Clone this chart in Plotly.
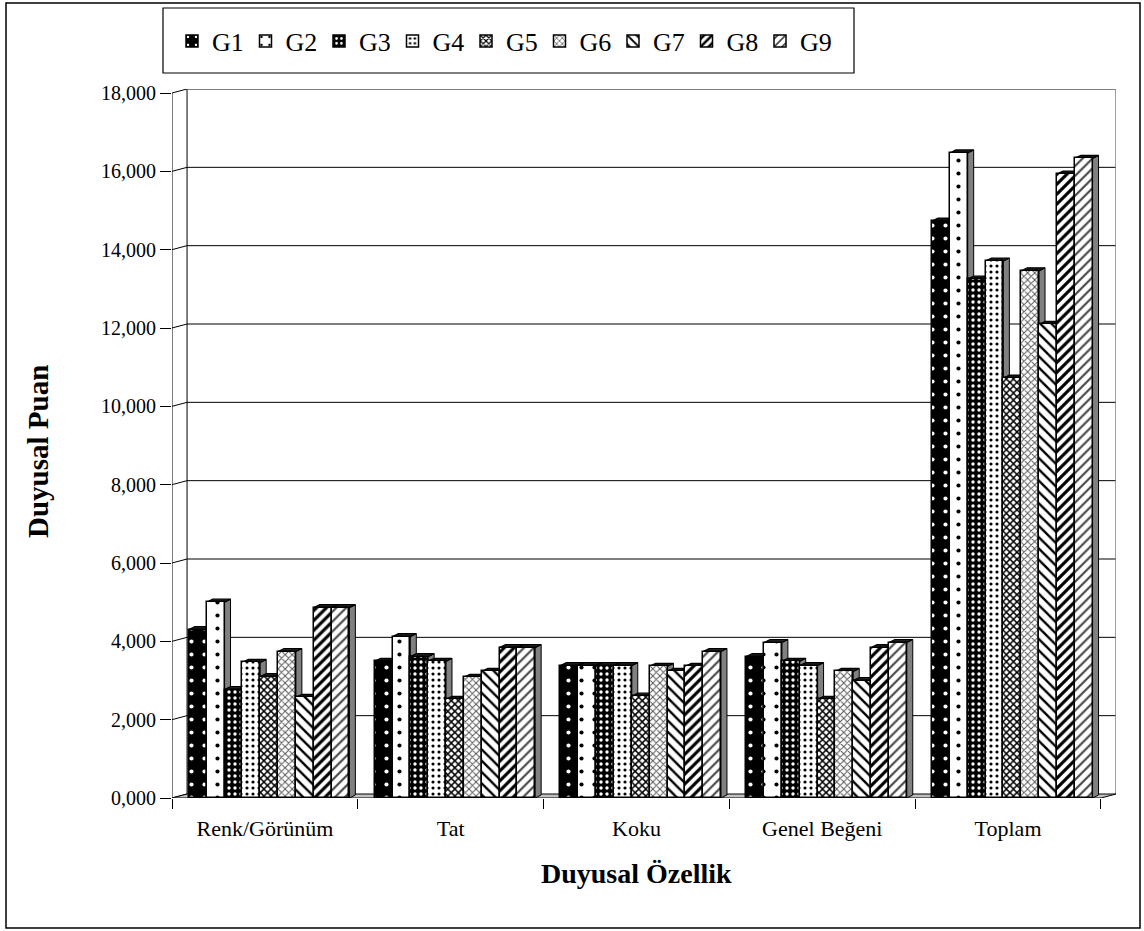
import plotly.graph_objects as go

# Sensory scores per attribute (decimal comma axis, 0-18 scale)
categories = ["Renk/Görünüm", "Tat", "Koku", "Genel Beğeni", "Toplam"]
series_names = ["G1", "G2", "G3", "G4", "G5", "G6", "G7", "G8", "G9"]
G1 = [4.30, 3.49, 3.38, 3.61, 14.73]
G2 = [5.00, 4.12, 3.38, 3.97, 16.47]
G3 = [2.77, 3.61, 3.38, 3.49, 13.25]
G4 = [3.46, 3.49, 3.38, 3.38, 13.71]
G5 = [3.10, 2.52, 2.60, 2.52, 10.72]
G6 = [3.74, 3.08, 3.36, 3.23, 13.46]
G7 = [2.57, 3.23, 3.23, 3.00, 12.09]
G8 = [4.86, 3.84, 3.36, 3.84, 15.93]
G9 = [4.86, 3.84, 3.74, 3.97, 16.33]
y_ticks = [0, 2, 4, 6, 8, 10, 12, 14, 16, 18]

values = [G1, G2, G3, G4, G5, G6, G7, G8, G9]

# fill patterns (shape, background, foreground, size, solidity)
patterns = [
    (".", "#000000", "#ffffff", 13, 0.08),
    (".", "#ffffff", "#000000", 13, 0.08),
    (".", "#000000", "#ffffff", 6, 0.25),
    (".", "#ffffff", "#000000", 6, 0.22),
    ("x", "#ffffff", "#000000", 5, 0.5),
    ("x", "#ffffff", "#555555", 5, 0.35),
    ("\\", "#ffffff", "#000000", 8, 0.3),
    ("/", "#ffffff", "#000000", 7, 0.45),
    ("/", "#ffffff", "#444444", 7, 0.3),
]

FONT = "Liberation Serif"
W, H = 1144, 931
ML, MR, MT, MB = 172, 28, 89, 133

# pseudo-3D geometry (category units on x, value units on y)
Y_MAX = 18.0
DX = 0.081          # depth of back wall along x
DY = 0.102          # depth of back wall along y
BAR_W = 0.096
GROUP_C = 0.523     # group centre within a category slot
SIDE_DX = 0.032
SIDE_DY = 0.077

fig = go.Figure()
shapes = []
n = len(categories)

# back wall gridlines and connectors to the front axis
for v in y_ticks:
    if v > 0:
        shapes.append(dict(type="line", xref="x", yref="y", x0=DX, x1=n + DX,
                           y0=v + DY, y1=v + DY, line=dict(color="#000000", width=1), layer="below"))
    shapes.append(dict(type="line", xref="x", yref="y", x0=0, x1=DX, y0=v, y1=v + DY,
                       line=dict(color="#000000", width=1), layer="below"))
# wall edges
shapes.append(dict(type="line", xref="x", yref="y", x0=DX, x1=DX, y0=DY, y1=Y_MAX + DY,
                   line=dict(color="#000000", width=1), layer="below"))
shapes.append(dict(type="line", xref="x", yref="y", x0=n + DX, x1=n + DX,
                   y0=DY, y1=Y_MAX + DY, line=dict(color="#808080", width=1.5), layer="below"))
shapes.append(dict(type="line", xref="x", yref="y", x0=DX, x1=n + DX,
                   y0=Y_MAX + DY, y1=Y_MAX + DY, line=dict(color="#808080", width=1.5), layer="below"))
# floor
shapes.append(dict(type="path", xref="x", yref="y",
                   path=f"M 0,0 L {n},0 L {n + DX},{DY} L {DX},{DY} Z",
                   fillcolor="#c0c0c0", line=dict(color="#000000", width=1), layer="below"))
# front value axis line
shapes.append(dict(type="line", xref="x", yref="y", x0=0, x1=0, y0=0, y1=Y_MAX,
                   line=dict(color="#000000", width=1), layer="below"))

for j, (name, vals, pat) in enumerate(zip(series_names, values, patterns)):
    shape, bg, fg, size, sol = pat
    xs = [i + GROUP_C + (j - (len(series_names) - 1) / 2) * BAR_W for i in range(n)]
    fig.add_trace(go.Bar(
        x=xs, y=vals, name=name, width=BAR_W,
        marker=dict(color=bg, line=dict(color="#000000", width=1.5),
                    pattern=dict(shape=shape, bgcolor=bg, fgcolor=fg, size=size,
                                 solidity=sol, fillmode="replace")),
        hovertemplate="%{y:.3f}<extra>" + name + "</extra>",
    ))
    # side and top faces
    for x, v in zip(xs, vals):
        xr = x + BAR_W / 2
        xl = x - BAR_W / 2
        shapes.append(dict(type="path", xref="x", yref="y",
                           path=f"M {xr},0 L {xr + SIDE_DX},{SIDE_DY} L {xr + SIDE_DX},{v + SIDE_DY} L {xr},{v} Z",
                           fillcolor="#808080", line=dict(color="#000000", width=1), layer="below"))
        shapes.append(dict(type="path", xref="x", yref="y",
                           path=f"M {xl},{v} L {xl + SIDE_DX},{v + SIDE_DY} L {xr + SIDE_DX},{v + SIDE_DY} L {xr},{v} Z",
                           fillcolor="#202020", line=dict(color="#000000", width=1.2), layer="below"))

def px_to_paper_x(px):
    return (px - ML) / (W - ML - MR)

def px_to_paper_y(py):
    return (H - MB - py) / (H - MT - MB)

# legend frame and outer frame
shapes.append(dict(type="rect", xref="paper", yref="paper",
                   x0=px_to_paper_x(163), x1=px_to_paper_x(854),
                   y0=px_to_paper_y(73), y1=px_to_paper_y(8),
                   line=dict(color="#000000", width=1.2), layer="above"))
shapes.append(dict(type="rect", xref="paper", yref="paper",
                   x0=px_to_paper_x(6), x1=px_to_paper_x(1140),
                   y0=px_to_paper_y(928), y1=px_to_paper_y(3),
                   line=dict(color="#000000", width=1.5), layer="above"))

annotations = [
    dict(text="<b>Duyusal Özellik</b>", xref="paper", yref="paper",
         x=px_to_paper_x(636), y=px_to_paper_y(873), xanchor="center", yanchor="middle",
         showarrow=False, font=dict(family=FONT, size=28, color="#000000")),
    dict(text="<b>Duyusal Puan</b>", xref="paper", yref="paper",
         x=px_to_paper_x(38), y=px_to_paper_y(452), xanchor="center", yanchor="middle",
         showarrow=False, textangle=-90,
         font=dict(family=FONT, size=29, color="#000000")),
]

fig.update_layout(
    width=W, height=H,
    margin=dict(l=ML, r=MR, t=MT, b=MB),
    paper_bgcolor="#ffffff", plot_bgcolor="#ffffff",
    separators=",.",
    barmode="overlay",
    bargap=0,
    font=dict(family=FONT, color="#000000"),
    showlegend=True,
    legend=dict(orientation="h", x=px_to_paper_x(172), y=px_to_paper_y(41),
                xanchor="left", yanchor="middle", bgcolor="rgba(0,0,0,0)",
                borderwidth=0, font=dict(family=FONT, size=26),
                entrywidth=28.5, entrywidthmode="pixels", itemwidth=30,
                traceorder="normal"),
    xaxis=dict(range=[0, n + DX], tickmode="array",
               tickvals=[i + 0.5 for i in range(n)], ticktext=categories,
               ticks="", showgrid=False, zeroline=False, showline=False,
               tickfont=dict(family=FONT, size=22), ticklabelstandoff=15,
               minor=dict(tick0=0, dtick=1, ticks="outside", ticklen=10,
                          tickcolor="#000000", showgrid=False)),
    yaxis=dict(range=[0, Y_MAX + DY], tickmode="array", tickvals=y_ticks,
               tickformat=".3f", ticks="outside", ticklen=11, tickcolor="#000000",
               showgrid=False, zeroline=False, showline=False,
               tickfont=dict(family=FONT, size=20)),
    shapes=shapes,
    annotations=annotations,
)

fig.write_html("out.html")
